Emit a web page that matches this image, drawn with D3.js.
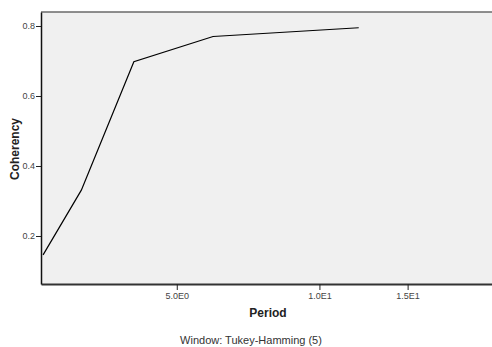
<!DOCTYPE html>
<html lang="en">
<head>
    <meta charset="utf-8">
    <script src="https://cdn.jsdelivr.net/npm/d3@7"></script>
    <style type="text/css">
        body { margin: 0; background: #fff; }
        svg { display: block; font-family: Arial, "Liberation Sans", sans-serif; }
    </style>
</head>
<body>
    <script>
        // periods (N/k) and coherency
        let periods = [2.4, 3, 4, 6, 12];
        let coherency = [0.146, 0.331, 0.698, 0.770, 0.795];
        let xTicks = [5, 10, 15];
        let xTickLabels = ["5.0E0", "1.0E1", "1.5E1"];
        let yTicks = [0.2, 0.4, 0.6, 0.8];

        let w = 492;
        let h = 347;
        let padL = 41, padR = 492, padT = 12, padB = 284;

        let svg = d3.select("body")
                    .append("svg")
                    .attr("width", w)
                    .attr("height", h);

        let xScale = d3.scaleSymlog()
                        .constant(1)
                        .domain([2.37, 21.9])
                        .range([padL, padR]);
        let yScale = d3.scaleLinear()
                        .domain([0.0629, 0.84])
                        .range([padB, padT]);

        svg.append("rect")
            .attr("x", padL)
            .attr("y", padT)
            .attr("width", padR - padL)
            .attr("height", padB - padT)
            .attr("fill", "#f0f0f0");

        // top frame line
        svg.append("line")
            .attr("x1", padL).attr("x2", padR)
            .attr("y1", padT).attr("y2", padT)
            .attr("stroke", "#6a6a6a")
            .attr("stroke-width", 1.5);

        let xAxis = d3.axisBottom(xScale)
                        .tickValues(xTicks)
                        .tickSize(6)
                        .tickSizeOuter(0)
                        .tickFormat((d, i) => xTickLabels[i]);
        let yAxis = d3.axisLeft(yScale)
                        .tickValues(yTicks)
                        .tickSize(5)
                        .tickSizeOuter(0)
                        .tickFormat(d3.format(".1f"));

        let gx = svg.append("g")
            .attr("transform", "translate(0," + padB + ")")
            .call(xAxis);
        let gy = svg.append("g")
            .attr("transform", "translate(" + padL + ",0)")
            .call(yAxis);

        gx.select(".domain").attr("stroke", "#333").attr("stroke-width", 2);
        gy.select(".domain").attr("stroke", "#111").attr("stroke-width", 1.5);
        svg.selectAll(".tick line").attr("stroke", "#222");
        svg.selectAll(".tick text")
            .attr("fill", "#444")
            .attr("font-size", "9px")
            .attr("font-family", "Arial, 'Liberation Sans', sans-serif");
        gx.selectAll(".tick text").attr("y", 9);
        gy.selectAll(".tick text").attr("x", -6);

        let line = d3.line()
                    .x((d, i) => xScale(periods[i]))
                    .y((d) => yScale(d));

        svg.append("path")
            .datum(coherency)
            .attr("d", line)
            .attr("fill", "none")
            .attr("stroke", "#000")
            .attr("stroke-width", 1.2);

        svg.append("text")
            .attr("x", 268)
            .attr("y", 317)
            .attr("text-anchor", "middle")
            .attr("font-size", "12px")
            .attr("font-weight", "bold")
            .attr("fill", "#222")
            .text("Period");

        svg.append("text")
            .attr("transform", "translate(19,149) rotate(-90)")
            .attr("text-anchor", "middle")
            .attr("font-size", "12px")
            .attr("font-weight", "bold")
            .attr("fill", "#222")
            .text("Coherency");

        svg.append("text")
            .attr("x", 251)
            .attr("y", 344)
            .attr("text-anchor", "middle")
            .attr("font-size", "11px")
            .attr("fill", "#333")
            .text("Window: Tukey-Hamming (5)");
    </script>
</body>
</html>
